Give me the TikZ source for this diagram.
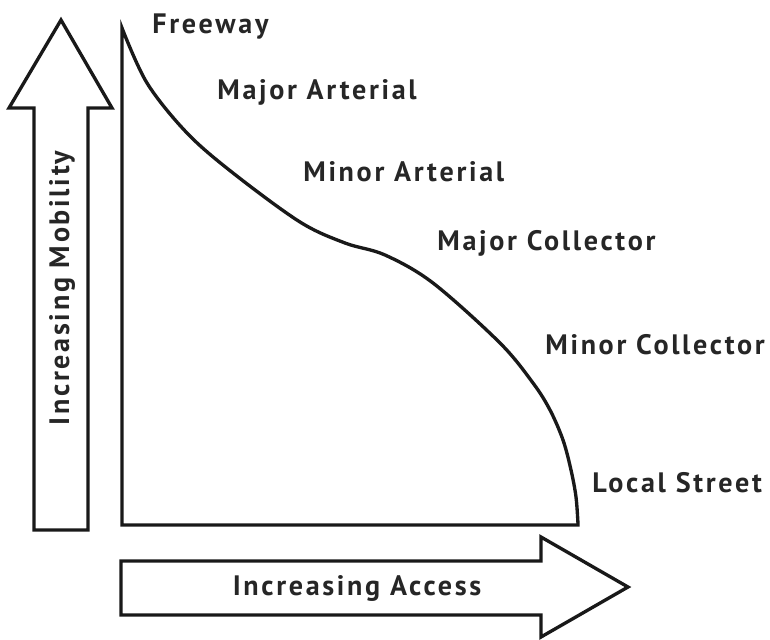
\documentclass[tikz,border=0pt]{standalone}
\usepackage{fontspec}
\setmainfont{PT Sans}[LetterSpace=9.5]
\begin{document}
\begin{tikzpicture}[x=0.02cm,y=-0.02cm,
  outline/.style={draw=black!90,line width=1.9pt,line join=miter,fill=white},
  lbl/.style={anchor=west,inner sep=0pt,font=\fontsize{16}{18}\selectfont\bfseries,text=black!85}]
\useasboundingbox (0,0) rectangle (770,639);
% vertical arrow
\draw[outline] (34,530) -- (34,108) -- (9,108) -- (61,20) -- (112,108) -- (88,108) -- (88,530) -- cycle;
% horizontal arrow
\draw[outline] (121,561) -- (541,561) -- (541,537) -- (628,587) -- (541,637) -- (541,615) -- (121,615) -- cycle;
% curve region
\draw[outline] (578,525) -- (122,525) -- (122,28) -- plot[smooth,tension=0.55] coordinates {(122,28) (147,83) (187,133) (233,173) (300,222) (345,243) (385,255) (433,283) (500,343) (533,383) (550,410) (563,440) (571,470) (576,497) (578,524)} -- cycle;
\node[lbl] (fw) at (152,27) {Freeway};
\node[lbl] (maa) at (217,92) {Major Arterial};
\node[lbl] (mia) at (303,172) {Minor Arterial};
\node[lbl] (mac) at (437,243) {Major Collector};
\node[lbl] (mic) at (545,345) {Minor Collector};
\node[lbl] (ls) at (592,483) {Local Street};
\node[lbl,anchor=center] (acc) at (357,588) {Increasing Access};
\node[lbl,anchor=center,rotate=90] (mob) at (62,288) {Increasing Mobility};
\end{tikzpicture}
\end{document}
